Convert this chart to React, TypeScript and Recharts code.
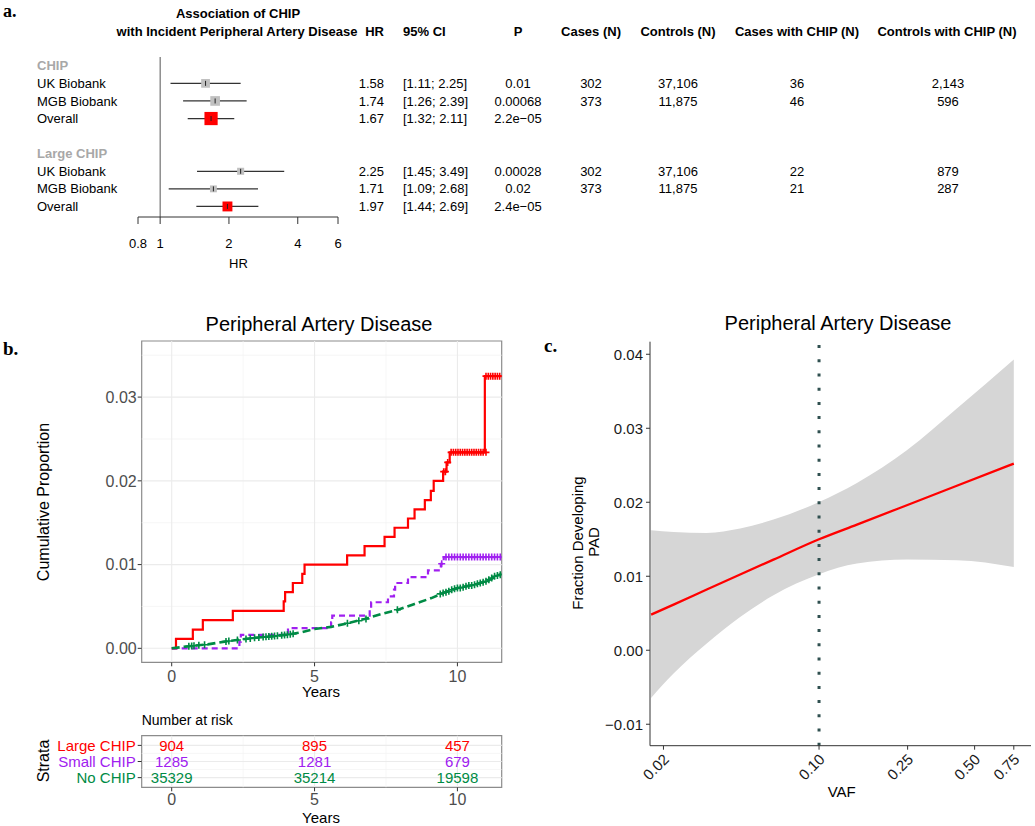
import React from 'react';
import {
  ComposedChart,
  XAxis,
  YAxis,
  Scatter,
  Line,
  Area,
  ReferenceLine,
  ReferenceArea,
  ErrorBar,
} from 'recharts';

const FONT = '"Liberation Sans", Arial, Helvetica, sans-serif';
const SERIF = '"Liberation Serif", "Times New Roman", serif';

/* ---------------- Panel a: forest plot data ---------------- */
const forestRowLabels = ['CHIP', 'UK Biobank', 'MGB Biobank', 'Overall', '', 'Large CHIP', 'UK Biobank', 'MGB Biobank', 'Overall'];
const forestHeaderRows = [0, 5];
const forestRows = [1, 2, 3, 6, 7, 8];
const forestKind = ['study', 'study', 'overall', 'study', 'study', 'overall'];
const forestHR = [1.58, 1.74, 1.67, 2.25, 1.71, 1.97];
const forestLower = [1.11, 1.26, 1.32, 1.45, 1.09, 1.44];
const forestUpper = [2.25, 2.39, 2.11, 3.49, 2.68, 2.69];
const forestP = ['0.01', '0.00068', '2.2e\u221205', '0.00028', '0.02', '2.4e\u221205'];
const forestCases = ['302', '373', '', '302', '373', ''];
const forestControls = ['37,106', '11,875', '', '37,106', '11,875', ''];
const forestCasesChip = ['36', '46', '', '22', '21', ''];
const forestControlsChip = ['2,143', '596', '', '879', '287', ''];
const forestTicks = [0.8, 1, 2, 4, 6];

const forestData = forestRows.map((row, i) => ({
  row,
  hr: forestHR[i],
  lo: forestLower[i],
  hi: forestUpper[i],
  err: [forestHR[i] - forestLower[i], forestUpper[i] - forestHR[i]],
  kind: forestKind[i],
}));

/* ---------------- Panel b: cumulative incidence data ---------------- */
const largeTimes = [0, 0.15, 0.74, 1.09, 2.14, 3.92, 3.97, 4.24, 4.57, 4.65, 6.14, 6.75, 7.45, 7.8, 8.27, 8.5, 8.86, 9.07, 9.17, 9.5, 9.62, 9.73, 10.96, 11.55];
const largeValues = [0, 0.00112, 0.00224, 0.00336, 0.00448, 0.0056, 0.0067, 0.0078, 0.0089, 0.01, 0.0111, 0.0122, 0.0133, 0.0144, 0.0155, 0.0166, 0.0177, 0.0188, 0.02, 0.0211, 0.0222, 0.0234, 0.0325, 0.0325];

const smallTimes = [0, 2.37, 2.42, 4.07, 5.58, 5.62, 6.93, 6.98, 7.57, 7.78, 7.82, 8.27, 8.97, 9.42, 9.52, 11.55];
const smallValues = [0, 0.0008, 0.0016, 0.0024, 0.0031, 0.0039, 0.0047, 0.0055, 0.0062, 0.007, 0.0078, 0.0085, 0.0093, 0.0101, 0.0109, 0.0109];

const noTimes = [0, 0.68, 1.26, 1.85, 2.43, 3.01, 3.6, 4.18, 4.53, 5.0, 5.58, 6.17, 6.75, 7.34, 7.92, 8.5, 9.09, 9.56, 10.02, 10.61, 11.07, 11.55];
const noValues = [0, 0.00028, 0.00047, 0.0008, 0.00106, 0.0013, 0.00146, 0.0017, 0.0019, 0.0023, 0.00256, 0.003, 0.0035, 0.0041, 0.0046, 0.0053, 0.006, 0.0067, 0.0072, 0.0076, 0.0081, 0.0089];

const largeCensor: [number, number][] = [
  [9.52, 0.0211], [9.58, 0.0211], [9.66, 0.0222],
  [9.78, 0.0234], [9.86, 0.0234], [9.94, 0.0234], [10.02, 0.0234], [10.1, 0.0234], [10.18, 0.0234],
  [10.26, 0.0234], [10.34, 0.0234], [10.42, 0.0234], [10.5, 0.0234], [10.58, 0.0234], [10.66, 0.0234],
  [10.74, 0.0234], [10.82, 0.0234], [10.9, 0.0234], [11.0, 0.0234],
  [11.0, 0.0325], [11.08, 0.0325], [11.16, 0.0325], [11.24, 0.0325], [11.32, 0.0325], [11.4, 0.0325], [11.48, 0.0325],
];
const smallCensor: [number, number][] = [
  [9.45, 0.0101], [9.6, 0.0109], [9.7, 0.0109], [9.8, 0.0109], [9.9, 0.0109], [10.0, 0.0109], [10.1, 0.0109],
  [10.2, 0.0109], [10.3, 0.0109], [10.4, 0.0109], [10.5, 0.0109], [10.6, 0.0109], [10.7, 0.0109], [10.8, 0.0109],
  [10.9, 0.0109], [11.0, 0.0109], [11.1, 0.0109], [11.2, 0.0109], [11.3, 0.0109], [11.4, 0.0109], [11.5, 0.0109],
];
const noCensor: [number, number][] = [
  [0.6, 0.00025], [0.7, 0.00029], [0.78, 0.00031], [0.95, 0.00036], [1.15, 0.00043], [1.9, 0.00082], [2.0, 0.00087],
  [2.3, 0.001], [2.6, 0.00112], [2.75, 0.00118], [2.9, 0.00125], [3.05, 0.0013], [3.2, 0.00134], [3.3, 0.00137],
  [3.4, 0.0014], [3.5, 0.00143], [3.6, 0.00146], [3.7, 0.0015], [3.85, 0.00155], [3.95, 0.00158], [4.05, 0.00162],
  [4.15, 0.00168], [4.25, 0.00173], [6.15, 0.003], [6.55, 0.0033], [6.8, 0.0035], [7.9, 0.0046],
  [9.4, 0.0065], [9.5, 0.0066], [9.6, 0.0067], [9.7, 0.0068], [9.8, 0.007], [9.9, 0.0071], [10.0, 0.0072],
  [10.1, 0.0072], [10.2, 0.0073], [10.3, 0.0074], [10.4, 0.0075], [10.5, 0.0075], [10.6, 0.0076], [10.7, 0.0077],
  [10.8, 0.0078], [10.9, 0.0079], [11.0, 0.008], [11.1, 0.0082], [11.2, 0.0084], [11.3, 0.0086], [11.4, 0.0087], [11.5, 0.0088],
];

const kmXTicks = [0, 5, 10];
const kmXMinor = [2.5, 7.5];
const kmYTicks = [0, 0.01, 0.02, 0.03];
const kmYMinor = [0.005, 0.015, 0.025, 0.035];
const KM_X_DOMAIN: [number, number] = [-1.05, 11.55];
const KM_Y_DOMAIN: [number, number] = [-0.00167, 0.0367];

/* risk table */
const riskTimes = [0, 5, 10];
const strataNames = ['Large CHIP', 'Small CHIP', 'No CHIP'];
const strataRows = [3, 2, 1];
const riskLarge = [904, 895, 457];
const riskSmall = [1285, 1281, 679];
const riskNo = [35329, 35214, 19598];

/* ---------------- Panel c: VAF data ---------------- */
const vafGrid = [0.0176, 0.0222, 0.0313, 0.0442, 0.0624, 0.1, 0.148, 0.248, 0.416, 0.75];
const fitLine = [0.00482, 0.00617, 0.0082, 0.01023, 0.01225, 0.015, 0.01698, 0.0196, 0.02223, 0.02523];
const ciLower = [-0.00644, -0.00315, 0.0009, 0.0045, 0.00743, 0.01027, 0.01171, 0.01225, 0.01216, 0.01126];
const ciUpper = [0.01622, 0.01599, 0.01586, 0.01644, 0.01766, 0.02004, 0.02261, 0.02703, 0.03266, 0.03928];
const vafTicks = [0.02, 0.1, 0.25, 0.5, 0.75];
const vafThreshold = 0.1;
const cYTicks = [-0.01, 0, 0.01, 0.02, 0.03, 0.04];

/* ---------------- styles ---------------- */
const RED = '#ff0000';
const PURPLE = '#a020f0';
const GREEN = '#008b45';
const strataColors = [RED, PURPLE, GREEN];

const toPts = (ts: number[], vs: number[]) => ts.map((t, i) => ({ t, v: vs[i] }));
const pairPts = (ps: [number, number][]) => ps.map(([t, v]) => ({ t, v }));

const largeData = toPts(largeTimes, largeValues);
const smallData = toPts(smallTimes, smallValues);
const noData = toPts(noTimes, noValues);

const riskData = strataNames.flatMap((name, s) => {
  const vals = s === 0 ? riskLarge : s === 1 ? riskSmall : riskNo;
  return riskTimes.map((t, i) => ({ t, row: strataRows[s], n: vals[i], color: strataColors[s] }));
});

const cData = vafGrid.map((vaf, i) => ({ vaf, fit: fitLine[i], band: [ciLower[i], ciUpper[i]] }));

/* ---------------- shapes & ticks ---------------- */
const ForestSquare = (props: any) => {
  const { cx, cy, payload } = props;
  if (cx == null || cy == null) return <g />;
  const side = 6.19 / Math.log(payload.hi / payload.lo);
  const fill = payload.kind === 'overall' ? RED : '#c0c0c0';
  return (
    <g>
      <rect x={cx - side / 2} y={cy - side / 2} width={side} height={side} fill={fill} />
      <line x1={cx} x2={cx} y1={cy - 2.5} y2={cy + 2.5} stroke="#222" strokeWidth={1} />
    </g>
  );
};

const ForestRowTick = (props: any) => {
  const { y, payload } = props;
  const r = payload.value;
  const header = forestHeaderRows.includes(r);
  const i = forestRows.indexOf(r);
  const common = { y, dy: '0.35em', fontSize: 13, fontFamily: FONT, fill: '#000' } as any;
  return (
    <g>
      <text
        {...common}
        x={37}
        textAnchor="start"
        fontWeight={header ? 'bold' : 'normal'}
        fill={header ? '#a8a8a8' : '#000'}
      >
        {forestRowLabels[r]}
      </text>
      {i >= 0 && (
        <g>
          <text {...common} x={384} textAnchor="end">{forestHR[i].toFixed(2)}</text>
          <text {...common} x={403} textAnchor="start">{`[${forestLower[i].toFixed(2)}; ${forestUpper[i].toFixed(2)}]`}</text>
          <text {...common} x={518} textAnchor="middle">{forestP[i]}</text>
          <text {...common} x={591} textAnchor="middle">{forestCases[i]}</text>
          <text {...common} x={678} textAnchor="middle">{forestControls[i]}</text>
          <text {...common} x={797} textAnchor="middle">{forestCasesChip[i]}</text>
          <text {...common} x={948} textAnchor="middle">{forestControlsChip[i]}</text>
        </g>
      )}
    </g>
  );
};

const makePlus = (color: string) => (props: any) => {
  const { cx, cy } = props;
  if (cx == null || cy == null) return <g />;
  return (
    <path d={`M${cx - 3.5},${cy}H${cx + 3.5}M${cx},${cy - 3.5}V${cy + 3.5}`} stroke={color} strokeWidth={1.6} fill="none" />
  );
};

const RiskText = (props: any) => {
  const { cx, cy, payload } = props;
  if (cx == null || cy == null) return <g />;
  return (
    <text x={cx} y={cy} dy="0.35em" textAnchor="middle" fontSize={15} fontFamily={FONT} fill={payload.color}>
      {payload.n}
    </text>
  );
};

const StrataTick = (props: any) => {
  const { x, y, payload } = props;
  const idx = strataRows.indexOf(payload.value);
  return (
    <text x={x} y={y} dy="0.35em" textAnchor="end" fontSize={15} fontFamily={FONT} fill={strataColors[idx]}>
      {strataNames[idx]}
    </text>
  );
};

const VafTick = (props: any) => {
  const { x, y, payload } = props;
  return (
    <text transform={`translate(${x - 1},${y + 1}) rotate(-45)`} textAnchor="end" dy="0.71em" fontSize={15} fontFamily={FONT} fill="#1a1a1a">
      {Number(payload.value).toFixed(2)}
    </text>
  );
};

const fmtC = (v: number) => (v < 0 ? '\u2212' + Math.abs(v).toFixed(2) : v.toFixed(2));

/* ---------------- charts ---------------- */
const ForestChart = () => (
  <ComposedChart width={1035} height={280} margin={{ top: 57, right: 697, bottom: 0, left: 0 }}>
    <XAxis
      type="number"
      dataKey="hr"
      scale="log"
      domain={[0.8, 6]}
      allowDataOverflow
      ticks={forestTicks}
      interval={0}
      tickFormatter={(v: number) => String(v)}
      height={63}
      tickSize={7}
      tickMargin={15}
      axisLine={{ stroke: '#333' }}
      tickLine={{ stroke: '#333' }}
      tick={{ fontSize: 13, fill: '#000', fontFamily: FONT }}
    />
    <YAxis
      type="number"
      dataKey="row"
      domain={[-0.5, 8.6]}
      reversed
      ticks={[0, 1, 2, 3, 4, 5, 6, 7, 8]}
      interval={0}
      width={138}
      axisLine={false}
      tickLine={false}
      tick={ForestRowTick}
    />
    <ReferenceLine x={1} stroke="#555" strokeWidth={1} />
    <Scatter data={forestData} shape={ForestSquare} isAnimationActive={false}>
      <ErrorBar dataKey="err" direction="x" width={0} stroke="#333" strokeWidth={1.2} />
    </Scatter>
  </ComposedChart>
);

const KMChart = () => (
  <ComposedChart width={520} height={420} margin={{ top: 51, right: 18.3, bottom: 7.7, left: 41.7 }}>
    <XAxis
      type="number"
      dataKey="t"
      domain={KM_X_DOMAIN}
      allowDataOverflow
      ticks={kmXTicks}
      interval={0}
      height={40}
      tickSize={4}
      tickMargin={4}
      axisLine={false}
      tickLine={{ stroke: '#333' }}
      tick={{ fontSize: 16, fill: '#4d4d4d', fontFamily: FONT }}
    />
    <YAxis
      type="number"
      dataKey="v"
      domain={KM_Y_DOMAIN}
      allowDataOverflow
      ticks={kmYTicks}
      interval={0}
      width={100}
      tickSize={4}
      tickMargin={1}
      axisLine={false}
      tickLine={{ stroke: '#333' }}
      tickFormatter={(v: number) => v.toFixed(2)}
      tick={{ fontSize: 16, fill: '#4d4d4d', fontFamily: FONT }}
    />
    {kmXMinor.map((x) => <ReferenceLine key={'xm' + x} x={x} stroke="#f2f2f2" strokeWidth={0.7} />)}
    {kmYMinor.map((y) => <ReferenceLine key={'ym' + y} y={y} stroke="#f2f2f2" strokeWidth={0.7} />)}
    {kmXTicks.map((x) => <ReferenceLine key={'xM' + x} x={x} stroke="#ebebeb" strokeWidth={1.1} />)}
    {kmYTicks.map((y) => <ReferenceLine key={'yM' + y} y={y} stroke="#ebebeb" strokeWidth={1.1} />)}
    <Line data={largeData} dataKey="v" type="stepAfter" stroke={RED} strokeWidth={2.2} dot={false} isAnimationActive={false} />
    <Line data={smallData} dataKey="v" type="stepAfter" stroke={PURPLE} strokeWidth={2.2} strokeDasharray="6 4" dot={false} isAnimationActive={false} />
    <Line data={noData} dataKey="v" type="linear" stroke={GREEN} strokeWidth={2.6} strokeDasharray="8 4" dot={false} isAnimationActive={false} />
    <Scatter data={pairPts(largeCensor)} shape={makePlus(RED)} isAnimationActive={false} />
    <Scatter data={pairPts(smallCensor)} shape={makePlus(PURPLE)} isAnimationActive={false} />
    <Scatter data={pairPts(noCensor)} shape={makePlus(GREEN)} isAnimationActive={false} />
    <ReferenceArea x1={KM_X_DOMAIN[0]} x2={KM_X_DOMAIN[1]} y1={KM_Y_DOMAIN[0]} y2={KM_Y_DOMAIN[1]} fill="none" stroke="#8c8c8c" strokeWidth={1.2} />
  </ComposedChart>
);

const RiskChart = () => (
  <ComposedChart width={520} height={126} margin={{ top: 35.7, right: 18.3, bottom: 8.7, left: 41.7 }}>
    <XAxis
      type="number"
      dataKey="t"
      domain={KM_X_DOMAIN}
      allowDataOverflow
      ticks={kmXTicks}
      interval={0}
      height={30}
      tickSize={4}
      tickMargin={2}
      axisLine={false}
      tickLine={{ stroke: '#333' }}
      tick={{ fontSize: 16, fill: '#4d4d4d', fontFamily: FONT }}
    />
    <YAxis
      type="number"
      dataKey="row"
      domain={[0.4, 3.6]}
      ticks={strataRows}
      interval={0}
      width={100}
      tickSize={4}
      tickMargin={2}
      axisLine={false}
      tickLine={{ stroke: '#333' }}
      tick={StrataTick}
    />
    {kmXMinor.map((x) => <ReferenceLine key={'rxm' + x} x={x} stroke="#f2f2f2" strokeWidth={0.7} />)}
    {[1.5, 2.5].map((y) => <ReferenceLine key={'rym' + y} y={y} stroke="#f2f2f2" strokeWidth={0.7} />)}
    {kmXTicks.map((x) => <ReferenceLine key={'rxM' + x} x={x} stroke="#ebebeb" strokeWidth={1.1} />)}
    {strataRows.map((y) => <ReferenceLine key={'ryM' + y} y={y} stroke="#ebebeb" strokeWidth={1.1} />)}
    <Scatter data={riskData} shape={RiskText} isAnimationActive={false} />
    <ReferenceArea x1={KM_X_DOMAIN[0]} x2={KM_X_DOMAIN[1]} y1={0.4} y2={3.6} fill="none" stroke="#8c8c8c" strokeWidth={1.2} />
  </ComposedChart>
);

const VafChart = () => (
  <ComposedChart width={495} height={536} data={cData} margin={{ top: 51.7, right: 4, bottom: 30.3, left: 0 }}>
    <XAxis
      type="number"
      dataKey="vaf"
      scale="log"
      domain={[0.0174, 0.896]}
      allowDataOverflow
      ticks={vafTicks}
      interval={0}
      height={50}
      tickSize={4}
      tickMargin={2}
      axisLine={{ stroke: '#333' }}
      tickLine={{ stroke: '#333' }}
      tick={VafTick}
    />
    <YAxis
      type="number"
      domain={[-0.0129, 0.0417]}
      allowDataOverflow
      ticks={cYTicks}
      interval={0}
      width={110}
      tickSize={4}
      tickMargin={3}
      axisLine={{ stroke: '#333' }}
      tickLine={{ stroke: '#333' }}
      tickFormatter={fmtC}
      tick={{ fontSize: 15, fill: '#1a1a1a', fontFamily: FONT }}
    />
    <Area dataKey="band" type="monotone" stroke="none" fill="#d6d6d6" fillOpacity={1} isAnimationActive={false} />
    <Line dataKey="fit" type="monotone" stroke={RED} strokeWidth={2.3} dot={false} isAnimationActive={false} />
    <ReferenceLine x={vafThreshold} stroke="#2f4f4f" strokeWidth={3} strokeDasharray="3 11.2" />
  </ComposedChart>
);

const Overlay = () => (
  <svg width={1035} height={826} style={{ position: 'absolute', left: 0, top: 0, pointerEvents: 'none' }} fontFamily={FONT}>
    {/* panel letters */}
    <text x={3} y={16.5} fontFamily={SERIF} fontWeight="bold" fontSize={18} fill="#000">a.</text>
    <text x={3} y={355} fontFamily={SERIF} fontWeight="bold" fontSize={19} fill="#000">b.</text>
    <text x={544} y={352} fontFamily={SERIF} fontWeight="bold" fontSize={19} fill="#000">c.</text>

    {/* forest headers */}
    <g fontWeight="bold" fontSize={13} fill="#000">
      <text x={238} y={18} textAnchor="middle">Association of CHIP</text>
      <text x={237} y={35.5} textAnchor="middle">with Incident Peripheral Artery Disease</text>
      <text x={384} y={35.5} textAnchor="end">HR</text>
      <text x={403} y={35.5} textAnchor="start">95% CI</text>
      <text x={518} y={35.5} textAnchor="middle">P</text>
      <text x={591} y={35.5} textAnchor="middle">Cases (N)</text>
      <text x={678} y={35.5} textAnchor="middle">Controls (N)</text>
      <text x={797} y={35.5} textAnchor="middle">Cases with CHIP (N)</text>
      <text x={947} y={35.5} textAnchor="middle">Controls with CHIP (N)</text>
    </g>
    <text x={238.5} y={268} textAnchor="middle" fontSize={13} fill="#000">HR</text>

    {/* panel b texts */}
    <text x={319} y={331} textAnchor="middle" fontSize={20} fill="#000">Peripheral Artery Disease</text>
    <text transform="translate(43,502) rotate(-90)" textAnchor="middle" dy="0.35em" fontSize={16} fill="#000">Cumulative Proportion</text>
    <text x={321} y={697} textAnchor="middle" fontSize={15} fill="#000">Years</text>
    <text x={141.7} y={725} textAnchor="start" fontSize={14} fill="#000">Number at risk</text>
    <text transform="translate(43,761) rotate(-90)" textAnchor="middle" dy="0.35em" fontSize={16} fill="#000">Strata</text>
    <text x={321} y={823} textAnchor="middle" fontSize={15} fill="#000">Years</text>

    {/* panel c texts */}
    <text x={838} y={329.5} textAnchor="middle" fontSize={20} fill="#000">Peripheral Artery Disease</text>
    <text transform="translate(578,543) rotate(-90)" textAnchor="middle" dy="0.35em" fontSize={15} fill="#000">Fraction Developing</text>
    <text transform="translate(593.3,542) rotate(-90)" textAnchor="middle" dy="0.35em" fontSize={15} fill="#000">PAD</text>
    <text x={841.7} y={796.5} textAnchor="middle" fontSize={15} fill="#000">VAF</text>
  </svg>
);

export default function App() {
  return (
    <div style={{ position: 'absolute', left: 0, top: 0, width: 1035, height: 826, background: '#fff', fontFamily: FONT, overflow: 'hidden' }}>
      <div style={{ position: 'absolute', left: 0, top: 0 }}>
        <ForestChart />
      </div>
      <div style={{ position: 'absolute', left: 0, top: 290 }}>
        <KMChart />
      </div>
      <div style={{ position: 'absolute', left: 0, top: 700 }}>
        <RiskChart />
      </div>
      <div style={{ position: 'absolute', left: 540, top: 290 }}>
        <VafChart />
      </div>
      <Overlay />
    </div>
  );
}
